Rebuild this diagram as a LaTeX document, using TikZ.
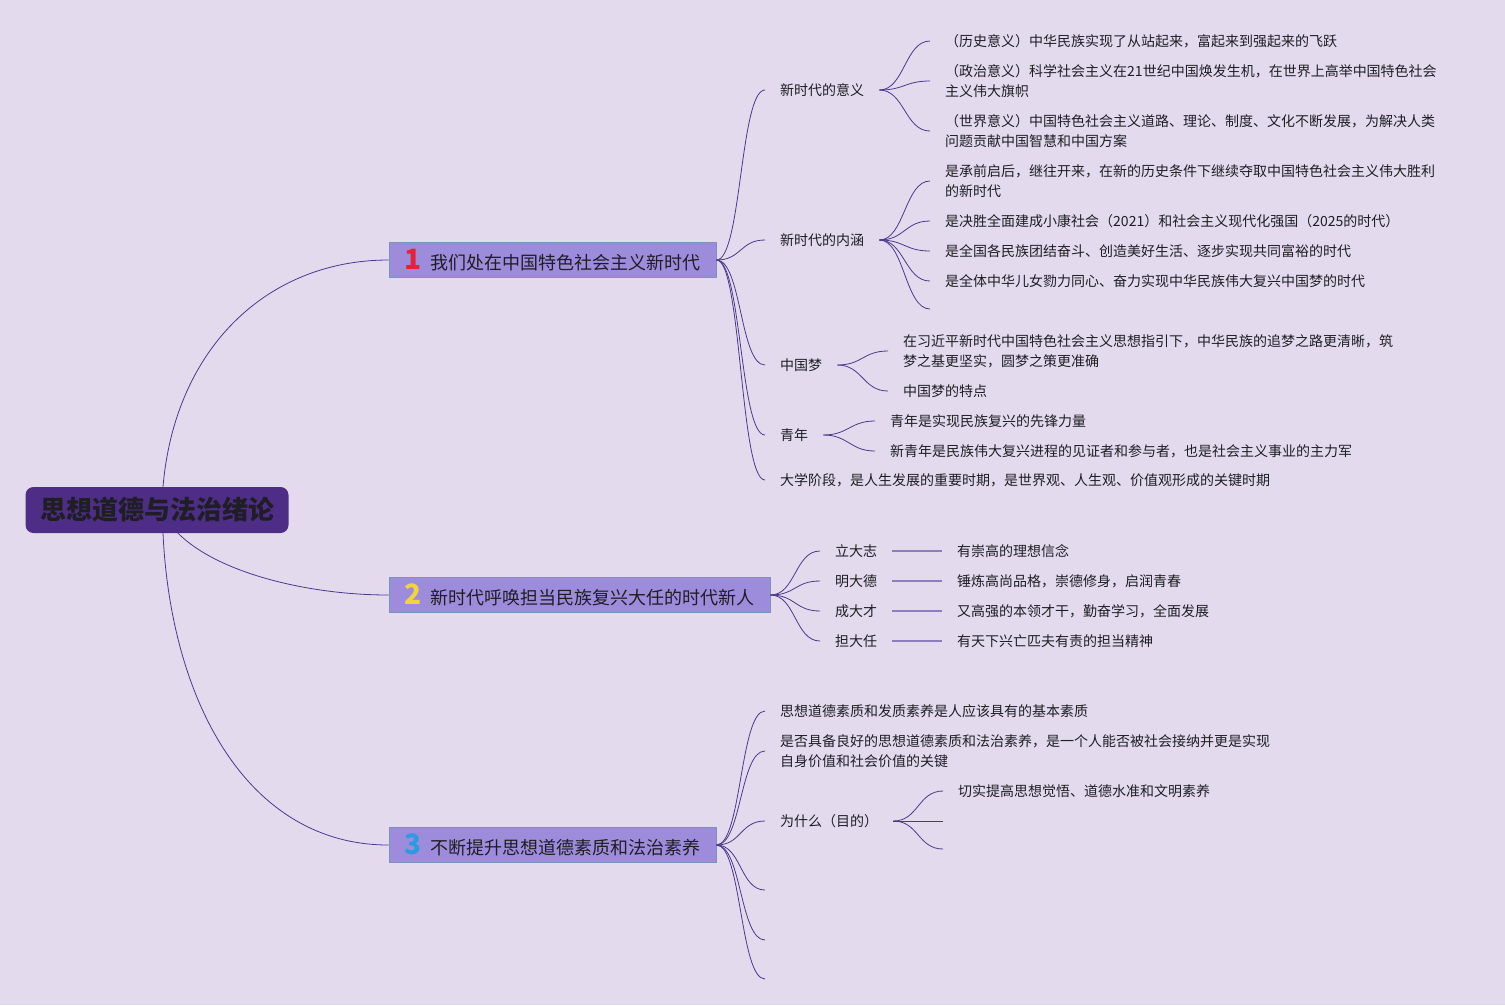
\documentclass[tikz,border=0pt]{standalone}
\usepackage{fontspec}
\setmainfont{Noto Sans CJK SC}
\definecolor{bgc}{HTML}{E4DAEE}
\definecolor{rootc}{HTML}{4E2D86}
\definecolor{topicc}{HTML}{9D8CDB}
\definecolor{topicb}{HTML}{7C93B8}
\definecolor{linec}{HTML}{4B3A8C}
\definecolor{dashc}{HTML}{8E7EC0}
\definecolor{textc}{HTML}{1E1E24}
\definecolor{numred}{HTML}{E8213A}
\definecolor{numyellow}{HTML}{F2D43D}
\definecolor{numblue}{HTML}{2E9BE0}
\newcommand{\topicnum}[2]{{\fontsize{28}{28}\selectfont\bfseries\textcolor{#1}{#2}}\hspace{9pt}}

\begin{document}
\begin{tikzpicture}[x=1pt, y=-1pt,
  link/.style={draw=linec, line width=0.8pt},
  fan/.style={out=0, in=180, distance=25pt},
  rootbox/.style={fill=rootc, rounded corners=8pt, minimum width=263pt, minimum height=46pt, text=textc, font=\fontsize{26}{30}\selectfont\bfseries},
  topic/.style={fill=topicc, draw=topicb, line width=1pt, minimum height=35pt, text=textc, font=\fontsize{18}{22}\selectfont},
  leaf/.style={anchor=west, inner xsep=15pt, inner ysep=2pt, align=left, text=textc, font=\fontsize{14}{20}\selectfont}]
\path[use as bounding box, fill=bgc] (0,0) rectangle (1505,1005);

\node[rootbox] (root) at (157,510) {思想道德与法治绪论};
\node[topic, minimum width=327pt] (era) at (552.5,260) {\topicnum{numred}{1}我们处在中国特色社会主义新时代};
\node[topic, minimum width=381pt] (youth) at (579.5,595) {\topicnum{numyellow}{2}新时代呼唤担当民族复兴大任的时代新人};
\node[topic, minimum width=327pt] (quality) at (552.5,845) {\topicnum{numblue}{3}不断提升思想道德素质和法治素养};
\draw[link] ([xshift=6pt]root.north) .. controls +(12,-140) and +(-120,0) .. (era.west);
\draw[link] ([xshift=21pt]root.south) .. controls +(40,40) and +(-80,0) .. (youth.west);
\draw[link] ([xshift=6pt]root.south) .. controls +(8,170) and +(-140,0) .. (quality.west);

\node[leaf] (meaning) at (765,90) {新时代的意义};
\node[leaf] (essence) at (765,240) {新时代的内涵};
\node[leaf] (dream) at (765,365) {中国梦};
\node[leaf] (young) at (765,435) {青年};
\node[leaf] (college) at (765,480) {大学阶段，是人生发展的重要时期，是世界观、人生观、价值观形成的关键时期};
\draw[link] (era.east) to[fan] (meaning.west);
\draw[link] (era.east) to[fan] (essence.west);
\draw[link] (era.east) to[fan] (dream.west);
\draw[link] (era.east) to[fan] (young.west);
\draw[link] (era.east) to[fan] (college.west);

\node[leaf] (meaning1) at (930,41) {（历史意义）中华民族实现了从站起来，富起来到强起来的飞跃};
\node[leaf] (meaning2) at (930,81) {（政治意义）科学社会主义在21世纪中国焕发生机，在世界上高举中国特色社会\\主义伟大旗帜};
\node[leaf] (meaning3) at (930,131) {（世界意义）中国特色社会主义道路、理论、制度、文化不断发展，为解决人类\\问题贡献中国智慧和中国方案};
\draw[link] (meaning.east) to[fan] (meaning1.west);
\draw[link] (meaning.east) to[fan] (meaning2.west);
\draw[link] (meaning.east) to[fan] (meaning3.west);

\node[leaf] (essence1) at (930,181) {是承前启后，继往开来，在新的历史条件下继续夺取中国特色社会主义伟大胜利\\的新时代};
\node[leaf] (essence2) at (930,221) {是决胜全面建成小康社会（2021）和社会主义现代化强国（2025的时代）};
\node[leaf] (essence3) at (930,251) {是全国各民族团结奋斗、创造美好生活、逐步实现共同富裕的时代};
\node[leaf] (essence4) at (930,281) {是全体中华儿女勠力同心、奋力实现中华民族伟大复兴中国梦的时代};
\coordinate (essence5) at (930,309);
\draw[link] (essence.east) to[fan] (essence1.west);
\draw[link] (essence.east) to[fan] (essence2.west);
\draw[link] (essence.east) to[fan] (essence3.west);
\draw[link] (essence.east) to[fan] (essence4.west);
\draw[link] (essence.east) to[fan] (essence5);

\node[leaf] (dream1) at (888,351) {在习近平新时代中国特色社会主义思想指引下，中华民族的追梦之路更清晰，筑\\梦之基更坚实，圆梦之策更准确};
\node[leaf] (dream2) at (888,391) {中国梦的特点};
\draw[link] (dream.east) to[fan] (dream1.west);
\draw[link] (dream.east) to[fan] (dream2.west);

\node[leaf] (young1) at (875,421) {青年是实现民族复兴的先锋力量};
\node[leaf] (young2) at (875,451) {新青年是民族伟大复兴进程的见证者和参与者，也是社会主义事业的主力军};
\draw[link] (young.east) to[fan] (young1.west);
\draw[link] (young.east) to[fan] (young2.west);

\node[leaf] (goal) at (820,551) {立大志};
\node[leaf] (virtue) at (820,581) {明大德};
\node[leaf] (talent) at (820,611) {成大才};
\node[leaf] (duty) at (820,641) {担大任};
\draw[link] (youth.east) to[fan] (goal.west);
\draw[link] (youth.east) to[fan] (virtue.west);
\draw[link] (youth.east) to[fan] (talent.west);
\draw[link] (youth.east) to[fan] (duty.west);
\node[leaf] (goal1) at (942,551) {有崇高的理想信念};
\node[leaf] (virtue1) at (942,581) {锤炼高尚品格，崇德修身，启润青春};
\node[leaf] (talent1) at (942,611) {又高强的本领才干，勤奋学习，全面发展};
\node[leaf] (duty1) at (942,641) {有天下兴亡匹夫有责的担当精神};
\draw[dashc, line width=1.2pt] (goal.east) -- (goal1.west);
\draw[dashc, line width=1.2pt] (virtue.east) -- (virtue1.west);
\draw[dashc, line width=1.2pt] (talent.east) -- (talent1.west);
\draw[dashc, line width=1.2pt] (duty.east) -- (duty1.west);

\node[leaf] (basic) at (765,711) {思想道德素质和发质素养是人应该具有的基本素质};
\node[leaf] (key) at (765,751) {是否具备良好的思想道德素质和法治素养，是一个人能否被社会接纳并更是实现\\自身价值和社会价值的关键};
\node[leaf] (why) at (765,821) {为什么（目的）};
\coordinate (quality4) at (765,890);
\coordinate (quality5) at (765,940);
\coordinate (quality6) at (765,979);
\draw[link] (quality.east) to[fan] (basic.west);
\draw[link] (quality.east) to[fan] (key.west);
\draw[link] (quality.east) to[fan] (why.west);
\draw[link] (quality.east) to[fan] (quality4);
\draw[link] (quality.east) to[fan] (quality5);
\draw[link] (quality.east) to[fan] (quality6);

\node[leaf] (why1) at (943,791) {切实提高思想觉悟、道德水准和文明素养};
\coordinate (why2) at (943,821);
\coordinate (why3) at (943,849);
\draw[link] (why.east) to[fan] (why1.west);
\draw[link] (why.east) to[fan] (why2);
\draw[link] (why.east) to[fan] (why3);
\end{tikzpicture}
\end{document}
